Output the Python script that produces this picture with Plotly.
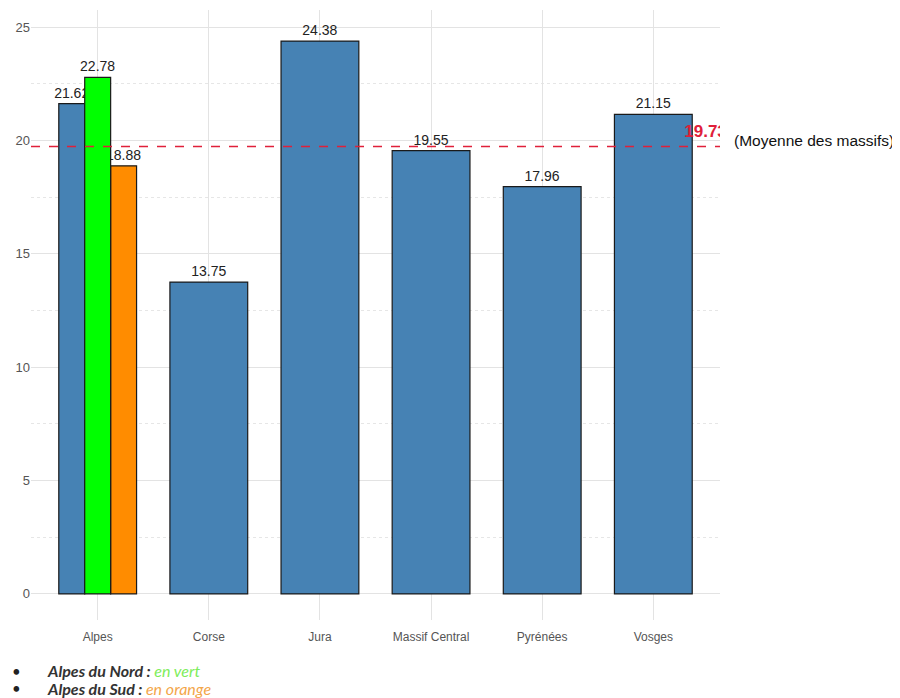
import plotly.graph_objects as go

# ---- data ----
massifs = ["Alpes", "Corse", "Jura", "Massif Central", "Pyrénées", "Vosges"]
valeurs = [21.62, 13.75, 24.38, 19.55, 17.96, 21.15]
sous_alpes = ["Alpes du Nord", "Alpes du Sud"]
valeurs_sous_alpes = [22.78, 18.88]
moyenne = 19.73
y_ticks = [0, 5, 10, 15, 20, 25]

# ---- layout helpers ----
n = len(massifs)
bar_w = 0.7
sub_w = bar_w / 3
x_main = [i for i in range(n)]
x_main[0] = 0 - sub_w          # Alpes (ensemble) shifted left
w_main = [bar_w] * n
w_main[0] = sub_w

FONT = "Liberation Sans, Arial, sans-serif"
steel = "#4682B4"
green = "#00FF00"
orange = "#FF8C00"

fig = go.Figure()

fig.add_trace(go.Bar(
    x=x_main, y=valeurs, width=w_main,
    marker=dict(color=steel, line=dict(color="#1a1a1a", width=1.2)),
    text=[f"{v:.2f}" for v in valeurs], textposition="outside",
    textfont=dict(family=FONT, size=14, color="#222222"),
    constraintext="none", cliponaxis=False, textangle=0,
    showlegend=False, hoverinfo="skip",
))
# orange before green so that green overlaps its label like in the original
fig.add_trace(go.Bar(
    x=[0 + sub_w], y=[valeurs_sous_alpes[1]], width=[sub_w],
    marker=dict(color=orange, line=dict(color="#1a1a1a", width=1.2)),
    text=[f"{valeurs_sous_alpes[1]:.2f}"], textposition="outside",
    textfont=dict(family=FONT, size=14, color="#222222"),
    constraintext="none", cliponaxis=False, textangle=0,
    showlegend=False, hoverinfo="skip", name=sous_alpes[1],
))
fig.add_trace(go.Bar(
    x=[0], y=[valeurs_sous_alpes[0]], width=[sub_w],
    marker=dict(color=green, line=dict(color="#1a1a1a", width=1.2)),
    text=[f"{valeurs_sous_alpes[0]:.2f}"], textposition="outside",
    textfont=dict(family=FONT, size=14, color="#222222"),
    constraintext="none", cliponaxis=False, textangle=0,
    showlegend=False, hoverinfo="skip", name=sous_alpes[0],
))

# mean label (clipped at the plot edge as in the original)
fig.add_trace(go.Scatter(
    x=[n - 1 + 0.47], y=[moyenne + 0.25], mode="text",
    text=[f"<b>{moyenne:.2f}</b>"], textposition="top center",
    textfont=dict(family=FONT, size=17, color="#e0203a"),
    cliponaxis=True, showlegend=False, hoverinfo="skip",
))

fig.add_shape(type="line", xref="paper", x0=0, x1=1, yref="y", y0=moyenne, y1=moyenne,
              line=dict(color="#e0203a", width=1.3, dash="dash"))

fig.add_annotation(xref="paper", yref="y", x=1.017, y=moyenne, xanchor="left", yanchor="middle",
                   yshift=6, text="(Moyenne des massifs)", showarrow=False,
                   font=dict(family=FONT, size=15.5, color="#111111"))

LEG = "Lato, Noto Sans, sans-serif"
leg_y = [-0.083, -0.112]
leg_txt = [
    "<b><i>Alpes du Nord : </i></b><i><span style='color:#7ded5a'>en vert</span></i>",
    "<b><i>Alpes du Sud : </i></b><i><span style='color:#f3a64a'>en orange</span></i>",
]
for yy, t in zip(leg_y, leg_txt):
    fig.add_annotation(xref="paper", yref="paper", x=-0.03, y=yy, xanchor="left", yanchor="middle",
                       text="•", showarrow=False, font=dict(family=LEG, size=15, color="#222222"))
    fig.add_annotation(xref="paper", yref="paper", x=0.02, y=yy, xanchor="left", yanchor="middle",
                       text=t, showarrow=False, font=dict(family=LEG, size=16, color="#333333"))

fig.update_layout(
    width=892, height=690,
    margin=dict(l=23, r=180, t=2, b=78, autoexpand=False),
    paper_bgcolor="white", plot_bgcolor="white",
    barmode="overlay",
    xaxis=dict(
        range=[-0.6, n - 0.4], tickmode="array", tickvals=list(range(n)), ticktext=massifs,
        showgrid=True, gridcolor="#e3e3e3", gridwidth=1, zeroline=False, showline=False,
        ticks="", tickfont=dict(family=FONT, size=12, color="#555555"),
        ticklabelstandoff=8, automargin=False,
    ),
    yaxis=dict(
        range=[-1.15, 25.75], tickmode="array", tickvals=y_ticks,
        showgrid=True, gridcolor="#e3e3e3", gridwidth=1, zeroline=False, showline=False,
        ticks="", tickfont=dict(family=FONT, size=13, color="#555555"),
        automargin=False,
        minor=dict(tickmode="linear", tick0=2.5, dtick=5, showgrid=True, griddash="dot",
                   gridcolor="#e6e6e6", gridwidth=1),
    ),
    font=dict(family=FONT),
)

fig.write_html("out.html")
